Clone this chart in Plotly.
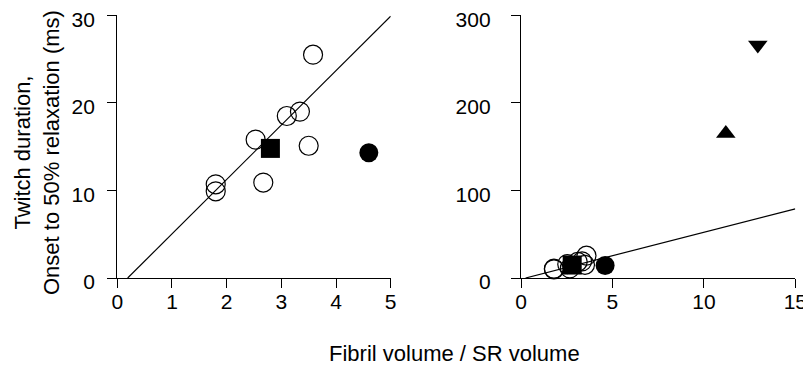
import plotly.graph_objects as go

# ---- data ----
open_x = [1.8, 1.8, 2.53, 2.67, 3.1, 3.34, 3.5, 3.58]
open_y = [10.7, 9.9, 15.8, 10.9, 18.5, 19.0, 15.1, 25.5]
square_x = [2.8]
square_y = [14.8]
filled_x = [4.6]
filled_y = [14.3]
tri_up_x = [11.2]
tri_up_y = [165]
tri_down_x = [12.95]
tri_down_y = [266]
fit_left_x = [0.19, 5.0]
fit_left_y = [0, 29.9]
fit_right_x = [0.25, 15.0]
fit_right_y = [0, 79]

left_xticks = [0, 1, 2, 3, 4, 5]
left_yticks = [0, 10, 20, 30]
right_xticks = [0, 5, 10, 15]
right_yticks = [0, 100, 200, 300]

x_title = "Fibril volume / SR volume"
y_title = "Twitch duration,<br>Onset to 50% relaxation (ms)"

FONT = "Arial, Liberation Sans, Helvetica, sans-serif"
OFF = 8  # page body margin
W, H = 811 - OFF, 368 - OFF


def px(v):
    return (v - OFF) / W


def py(v):
    return 1 - (v - OFF) / H


fig = go.Figure()


def add_panel(xa, ya, fit_x, fit_y, extra=False):
    fig.add_trace(go.Scatter(x=fit_x, y=fit_y, mode="lines",
                             line=dict(color="black", width=1.2),
                             xaxis=xa, yaxis=ya, showlegend=False, cliponaxis=False))
    fig.add_trace(go.Scatter(x=open_x, y=open_y, mode="markers",
                             marker=dict(symbol="circle", size=19, color="rgba(0,0,0,0)",
                                         line=dict(color="black", width=1.2)),
                             xaxis=xa, yaxis=ya, showlegend=False, cliponaxis=False))
    fig.add_trace(go.Scatter(x=square_x, y=square_y, mode="markers",
                             marker=dict(symbol="square", size=19, color="black",
                                         line=dict(width=0)),
                             xaxis=xa, yaxis=ya, showlegend=False, cliponaxis=False))
    fig.add_trace(go.Scatter(x=filled_x, y=filled_y, mode="markers",
                             marker=dict(symbol="circle", size=19, color="black",
                                         line=dict(width=0)),
                             xaxis=xa, yaxis=ya, showlegend=False, cliponaxis=False))
    if extra:
        fig.add_trace(go.Scatter(x=tri_up_x, y=tri_up_y, mode="markers",
                                 marker=dict(symbol="triangle-up", size=17, color="black",
                                             line=dict(width=0)),
                                 xaxis=xa, yaxis=ya, showlegend=False, cliponaxis=False))
        fig.add_trace(go.Scatter(x=tri_down_x, y=tri_down_y, mode="markers",
                                 marker=dict(symbol="triangle-down", size=17, color="black",
                                             line=dict(width=0)),
                                 xaxis=xa, yaxis=ya, showlegend=False, cliponaxis=False))


add_panel("x", "y", fit_left_x, fit_left_y)
add_panel("x2", "y2", fit_right_x, fit_right_y, extra=True)

ydom = [py(278), py(15.3)]
axis_common = dict(showgrid=False, zeroline=False, showline=True, linecolor="black",
                   linewidth=1.3, ticks="outside", ticklen=9, tickwidth=1.3,
                   tickcolor="black", tickfont=dict(family=FONT, size=21, color="black"),
                   automargin=False, ticklabeloverflow="allow")

fig.update_layout(
    width=W, height=H,
    margin=dict(l=0, r=0, t=0, b=0),
    paper_bgcolor="white", plot_bgcolor="white",
    font=dict(family=FONT, color="black"),
    xaxis=dict(domain=[px(117.3), px(390.7)], range=[0, 5], tickvals=left_xticks,
               anchor="y", ticklabelstandoff=-4, **axis_common),
    yaxis=dict(domain=ydom, range=[0, 30], tickvals=left_yticks,
               anchor="x", ticklabelstandoff=8, ticklabelshift=4, **axis_common),
    xaxis2=dict(domain=[px(521), px(795.3)], range=[0, 15], tickvals=right_xticks,
                anchor="y2", ticklabelstandoff=-4, **axis_common),
    yaxis2=dict(domain=ydom, range=[0, 300], tickvals=right_yticks,
                anchor="x2", ticklabelstandoff=16, ticklabelshift=4, **axis_common),
    annotations=[
        dict(text=x_title, xref="paper", yref="paper", x=px(454), y=py(353),
             xanchor="center", yanchor="middle", showarrow=False,
             font=dict(family=FONT, size=22, color="black")),
        dict(text=y_title, xref="paper", yref="paper", x=px(37), y=py(153),
             xanchor="center", yanchor="middle", showarrow=False, textangle=-90,
             font=dict(family=FONT, size=22, color="black")),
    ],
)

fig.write_html("out.html")
